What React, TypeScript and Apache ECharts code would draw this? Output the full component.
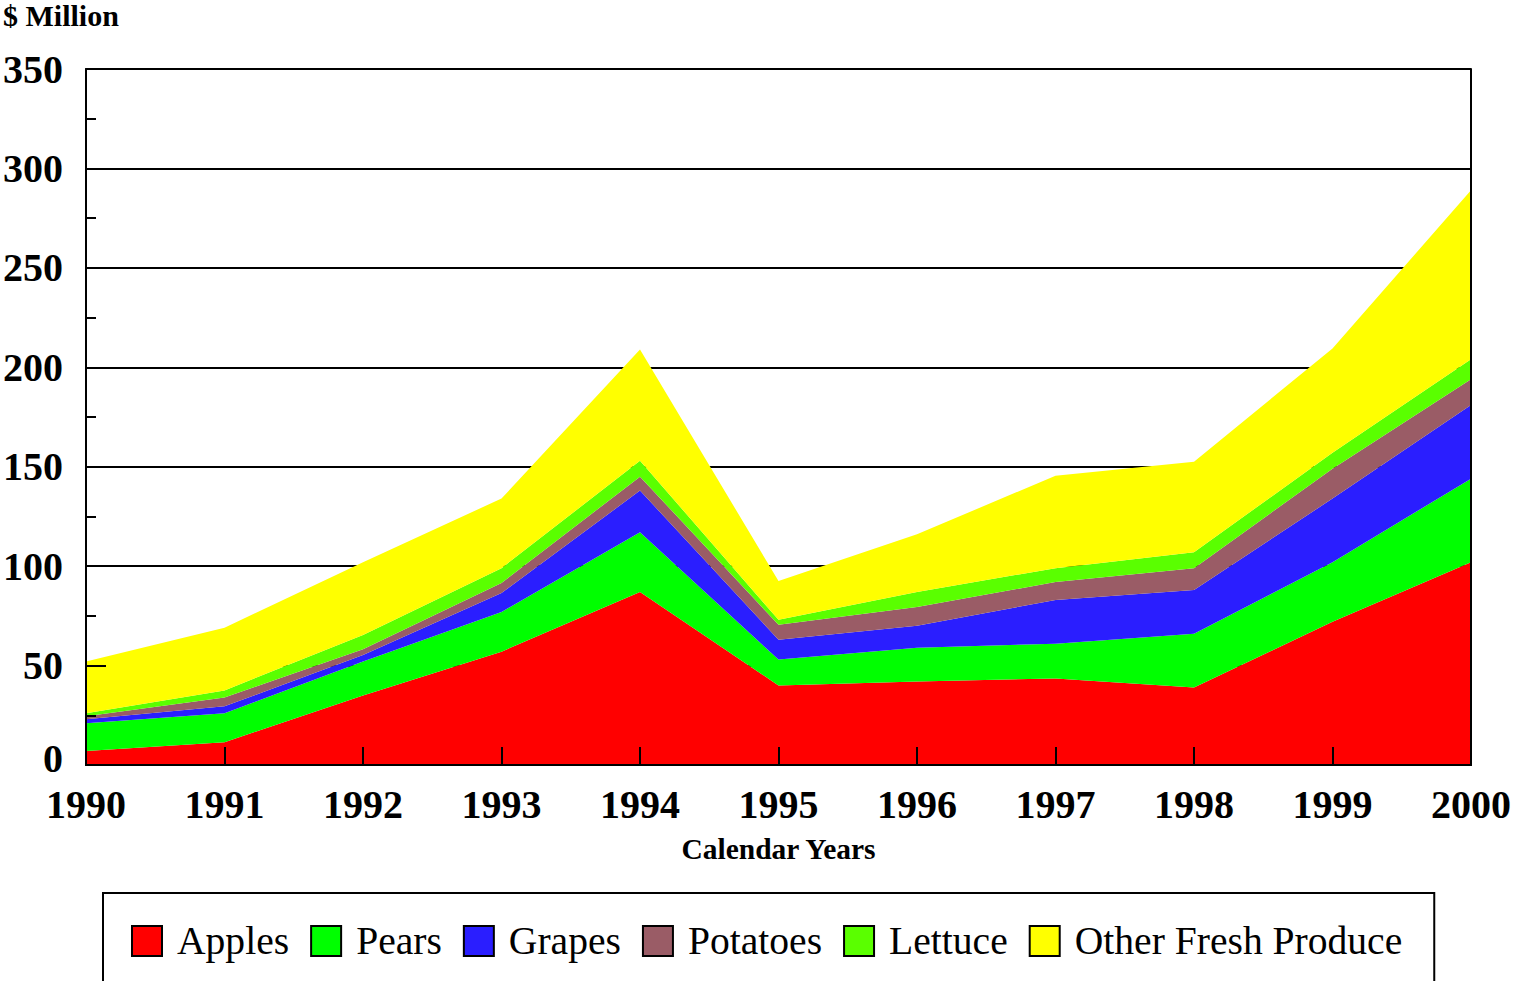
import React, { useEffect, useRef } from "react";
import * as echarts from "echarts";

const years = ["1990", "1991", "1992", "1993", "1994", "1995", "1996", "1997", "1998", "1999", "2000"];
const apples = [7, 11.5, 35, 57, 87, 40, 42, 43.5, 39, 72, 102];
const pears = [14, 14.5, 17, 20, 30, 13, 17, 17.5, 27, 30, 42];
const grapes = [2, 3.5, 3.3, 9.5, 21, 10, 11, 22, 22, 32, 37];
const potatoes = [1.5, 4.5, 2.9, 5, 7, 7.5, 9.5, 9, 11, 15, 13];
const lettuce = [1.5, 3.5, 7.2, 7.5, 8, 2.5, 7.5, 7, 8, 8, 10];
const other = [26, 31.5, 36.6, 35, 56, 19.5, 29, 46.5, 45.5, 52.5, 85];

const seriesNames = ["Apples", "Pears", "Grapes", "Potatoes", "Lettuce", "Other Fresh Produce"];
const seriesData = [apples, pears, grapes, potatoes, lettuce, other];
const colors = ["#ff0000", "#00ff00", "#2a1eff", "#9a5c66", "#5aff00", "#ffff00"];

const FONT = "'Liberation Serif', 'Times New Roman', serif";

export default function App() {
  const ref = useRef<HTMLDivElement>(null);
  useEffect(() => {
    if (!ref.current) return;
    const chart = echarts.init(ref.current, null, { renderer: "svg" });
    chart.setOption({
      animation: false,
      backgroundColor: "#ffffff",
      textStyle: { fontFamily: FONT },
      grid: { left: 85, right: 42, top: 69, bottom: 216, show: false },
      graphic: [
        {
          type: "text",
          left: 3,
          top: 0,
          style: { text: "$ Million", font: `bold 30px ${FONT}`, fill: "#000" },
        },
      ],
      legend: {
        data: seriesNames,
        left: 103,
        top: 893,
        orient: "horizontal",
        icon: "rect",
        itemWidth: 30,
        itemHeight: 30,
        itemGap: 21,
        borderColor: "#000",
        borderWidth: 2,
        padding: [28, 32, 60, 28],
        itemStyle: { borderColor: "#000", borderWidth: 2 },
        textStyle: { fontFamily: FONT, fontSize: 39.6, color: "#000", padding: [0, 0, 0, 10] },
      },
      xAxis: [
        {
          type: "category",
          data: years,
          boundaryGap: false,
          position: "bottom",
          z: 10,
          axisLine: { show: true, lineStyle: { color: "#000", width: 2 } },
          axisTick: { show: true, inside: true, length: 18, lineStyle: { color: "#000", width: 2 } },
          axisLabel: { fontFamily: FONT, fontWeight: "bold", fontSize: 40, lineHeight: 30, color: "#000", margin: 24 },
          splitLine: { show: false },
          name: "Calendar Years",
          nameLocation: "middle",
          nameGap: 69,
          nameTextStyle: { fontFamily: FONT, fontWeight: "bold", fontSize: 29.5, color: "#000" },
        },
        {
          type: "category",
          data: years,
          boundaryGap: false,
          position: "top",
          z: 10,
          axisLine: { show: true, lineStyle: { color: "#000", width: 2 } },
          axisTick: { show: false },
          axisLabel: { show: false },
          splitLine: { show: false },
        },
      ],
      yAxis: [
        {
          type: "value",
          min: 0,
          max: 350,
          interval: 50,
          position: "left",
          axisLine: { show: true, lineStyle: { color: "#000", width: 2 } },
          axisTick: { show: false },
          axisLabel: {
            fontFamily: FONT,
            fontWeight: "bold",
            fontSize: 40,
            lineHeight: 30,
            color: "#000",
            margin: 23,
            formatter: (v: number) => (v === 0 ? "{zero|0}" : String(v)),
            rich: {
              zero: {
                fontFamily: FONT,
                fontWeight: "bold",
                fontSize: 40,
                lineHeight: 30,
                color: "#000",
                padding: [0, 0, 14, 0],
              },
            },
          },
          splitLine: { show: true, lineStyle: { color: "#000", width: 2 } },
        },
        {
          type: "value",
          min: 0,
          max: 350,
          interval: 50,
          position: "left",
          z: 10,
          axisLine: { show: true, lineStyle: { color: "#000", width: 2 } },
          axisTick: { show: true, inside: true, length: 20, lineStyle: { color: "#000", width: 2 } },
          minorTick: { show: true, splitNumber: 2, length: 10, lineStyle: { color: "#000", width: 2 } },
          axisLabel: { show: false },
          splitLine: { show: false },
        },
        {
          type: "value",
          min: 0,
          max: 350,
          interval: 50,
          position: "right",
          z: 10,
          axisLine: { show: true, lineStyle: { color: "#000", width: 2 } },
          axisTick: { show: false },
          axisLabel: { show: false },
          splitLine: { show: false },
        },
      ],
      series: seriesNames.map((name, i) => ({
        name,
        type: "line",
        stack: "total",
        xAxisIndex: 0,
        yAxisIndex: 0,
        data: seriesData[i],
        showSymbol: false,
        symbol: "none",
        lineStyle: { width: 0, color: colors[i] },
        itemStyle: { color: colors[i] },
        areaStyle: { color: colors[i], opacity: 1 },
      })),
    });
    return () => chart.dispose();
  }, []);
  return (
    <div
      ref={ref}
      style={{ position: "fixed", left: 0, top: 0, width: 1514, height: 981, background: "#fff" }}
    />
  );
}
